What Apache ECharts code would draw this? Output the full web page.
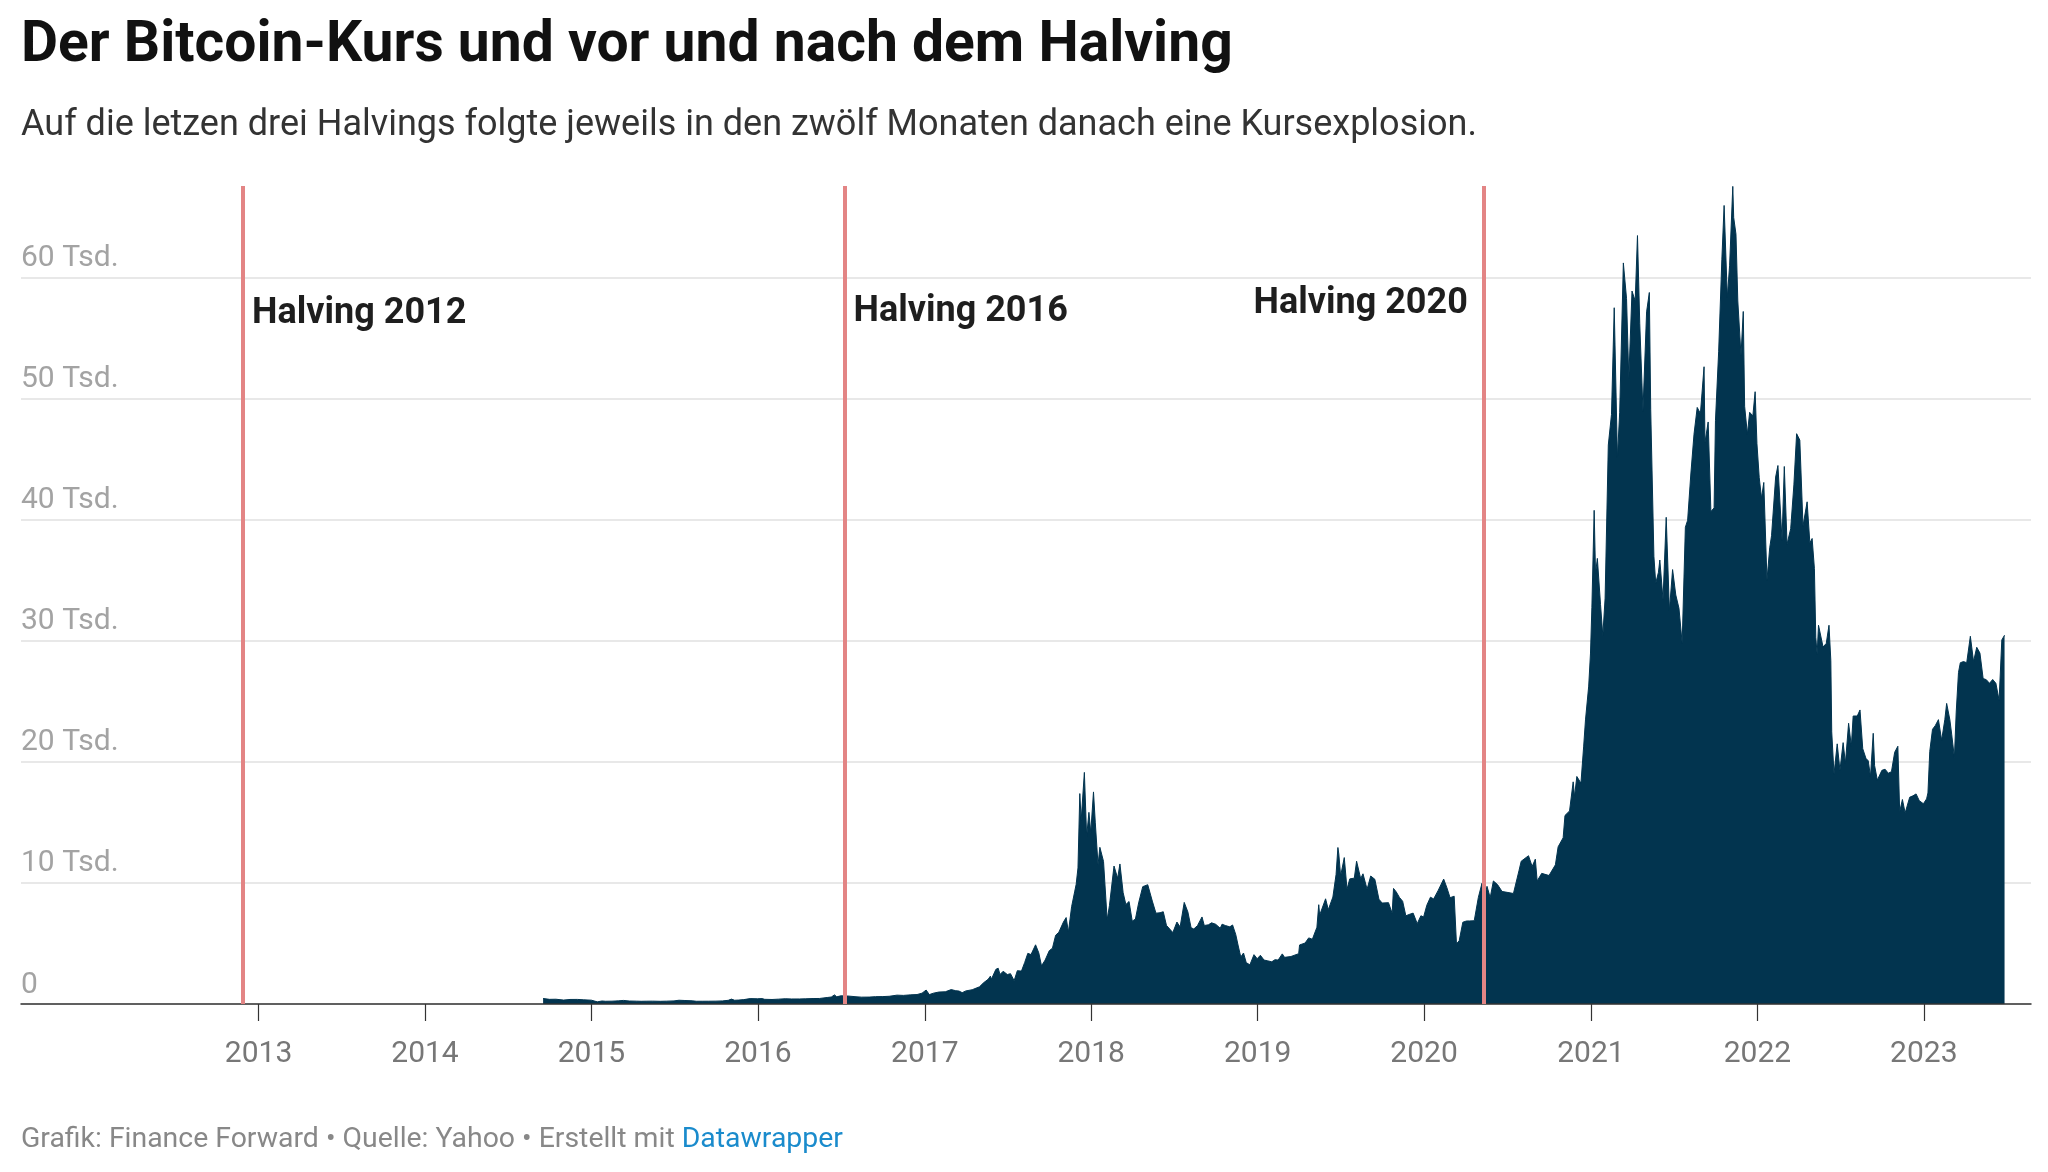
<!DOCTYPE html>
<html><head><meta charset="utf-8">
<script src="https://cdn.jsdelivr.net/npm/echarts@6/dist/echarts.min.js"></script>
<style>html,body{margin:0;padding:0;background:#fff}#c{width:2048px;height:1172px}</style>
</head><body><div id="c"></div>
<script>
// Bitcoin closing price (USD)
const btc2014 = [['2014-09-17',457],['2014-10-01',384],['2014-10-15',394],['2014-11-01',325],['2014-11-15',375],['2014-12-01',379],['2014-12-15',347]];
const btc2015 = [['2015-01-01',314],['2015-01-14',178],['2015-01-24',248],['2015-02-01',226],['2015-02-15',234],['2015-03-01',260],['2015-03-12',296],['2015-03-25',247],['2015-04-10',236],['2015-04-20',224],['2015-05-01',232],['2015-05-15',237],['2015-06-01',223],['2015-06-15',236],['2015-07-01',258],['2015-07-12',311],['2015-07-25',289],['2015-08-10',264],['2015-08-19',226],['2015-09-01',228],['2015-09-15',230],['2015-10-01',237],['2015-10-15',255],['2015-10-28',304],['2015-11-04',403],['2015-11-11',311],['2015-11-20',326],['2015-12-01',362],['2015-12-15',445],['2015-12-31',430]];
const btc2016 = [['2016-01-10',448],['2016-01-16',387],['2016-02-01',373],['2016-02-15',400],['2016-03-01',435],['2016-03-15',415],['2016-04-01',417],['2016-04-15',430],['2016-05-01',451],['2016-05-15',457],['2016-06-01',536],['2016-06-10',577],['2016-06-17',753],['2016-06-22',593],['2016-07-01',676],['2016-07-15',665],['2016-08-01',606],['2016-08-15',567],['2016-09-01',572],['2016-09-15',607],['2016-10-01',613],['2016-10-15',639],['2016-11-01',731],['2016-11-15',711],['2016-12-01',756],['2016-12-15',780],['2016-12-26',896]];
const btc2017 = [['2017-01-04',1154],['2017-01-11',777],['2017-01-20',895],['2017-02-01',989],['2017-02-15',1010],['2017-02-28',1190],['2017-03-10',1098],['2017-03-17',1071],['2017-03-24',937],['2017-04-01',1080],['2017-04-15',1180],['2017-05-01',1421],['2017-05-10',1756],['2017-05-20',2041],['2017-05-25',2304],['2017-05-27',2040],['2017-06-06',2864],['2017-06-11',2958],['2017-06-15',2442],['2017-06-22',2707],['2017-07-01',2434],['2017-07-08',2507],['2017-07-16',1929],['2017-07-23',2754],['2017-08-01',2718],['2017-08-08',3419],['2017-08-15',4185],['2017-08-22',4086],['2017-09-01',4892],['2017-09-08',4226],['2017-09-14',3154],['2017-09-22',3630],['2017-10-01',4403],['2017-10-08',4610],['2017-10-15',5680],['2017-10-22',5930],['2017-11-01',6767],['2017-11-07',7144],['2017-11-12',5950],['2017-11-19',8040],['2017-11-26',9330],['2017-11-29',9888],['2017-12-03',11246],['2017-12-07',17390],['2017-12-10',15170],['2017-12-17',19140],['2017-12-22',13831],['2017-12-27',15838],['2017-12-31',14156]];
const btc2018 = [['2018-01-06',17527],['2018-01-10',14973],['2018-01-16',11490],['2018-01-20',12950],['2018-01-28',11786],['2018-02-05',6955],['2018-02-10',8130],['2018-02-20',11403],['2018-02-28',10397],['2018-03-05',11573],['2018-03-12',9205],['2018-03-18',8223],['2018-03-25',8470],['2018-04-01',6844],['2018-04-08',7023],['2018-04-15',8355],['2018-04-24',9697],['2018-05-05',9858],['2018-05-15',8504],['2018-05-23',7505],['2018-06-01',7541],['2018-06-08',7624],['2018-06-15',6499],['2018-06-29',5903],['2018-07-08',6773],['2018-07-15',6357],['2018-07-24',8397],['2018-08-01',7605],['2018-08-08',6306],['2018-08-14',6200],['2018-08-22',6475],['2018-09-01',7193],['2018-09-06',6489],['2018-09-15',6543],['2018-09-22',6710],['2018-10-01',6589],['2018-10-11',6260],['2018-10-15',6596],['2018-10-22',6486],['2018-11-01',6377],['2018-11-07',6531],['2018-11-14',5738],['2018-11-19',4871],['2018-11-25',3880],['2018-12-01',4214],['2018-12-07',3419],['2018-12-15',3236],['2018-12-24',4079],['2018-12-31',3742]];
const btc2019 = [['2019-01-07',4025],['2019-01-15',3630],['2019-01-22',3576],['2019-02-01',3487],['2019-02-08',3661],['2019-02-15',3630],['2019-02-24',4142],['2019-03-01',3855],['2019-03-15',3924],['2019-04-01',4158],['2019-04-03',4880],['2019-04-15',5036],['2019-04-23',5464],['2019-05-01',5350],['2019-05-11',6340],['2019-05-15',8205],['2019-05-17',7344],['2019-05-30',8693],['2019-06-05',7795],['2019-06-15',8838],['2019-06-22',10701],['2019-06-26',12932],['2019-06-28',12400],['2019-07-02',10583],['2019-07-10',12100],['2019-07-16',9478],['2019-07-22',10340],['2019-08-01',10400],['2019-08-06',11800],['2019-08-15',10360],['2019-08-20',10760],['2019-08-29',9487],['2019-09-06',10577],['2019-09-15',10305],['2019-09-24',8660],['2019-10-01',8343],['2019-10-15',8374],['2019-10-23',7490],['2019-10-26',9551],['2019-11-01',9261],['2019-11-08',8809],['2019-11-15',8491],['2019-11-22',7290],['2019-12-01',7424],['2019-12-08',7511],['2019-12-17',6640],['2019-12-25',7290],['2019-12-31',7193]];
const btc2020 = [['2020-01-07',8163],['2020-01-15',8826],['2020-01-22',8680],['2020-02-01',9390],['2020-02-13',10326],['2020-02-20',9610],['2020-02-27',8785],['2020-03-07',8909],['2020-03-12',4970],['2020-03-18',5225],['2020-03-26',6760],['2020-04-03',6860],['2020-04-10',6865],['2020-04-20',6880],['2020-04-29',8800],['2020-05-07',9980],['2020-05-11',8600],['2020-05-18',9725],['2020-05-25',8790],['2020-06-01',10167],['2020-06-10',9870],['2020-06-20',9300],['2020-07-01',9228],['2020-07-15',9132],['2020-07-27',11000],['2020-08-01',11800],['2020-08-17',12254],['2020-08-25',11366],['2020-09-01',11970],['2020-09-05',10170],['2020-09-15',10795],['2020-10-01',10620],['2020-10-15',11500],['2020-10-21',12990],['2020-11-01',13737],['2020-11-05',15580],['2020-11-15',15956],['2020-11-23',18360],['2020-11-26',17150],['2020-12-01',18803],['2020-12-10',18250],['2020-12-16',21310],['2020-12-20',23480],['2020-12-27',26270],['2020-12-31',29001]];
const btc2021 = [['2021-01-03',32782],['2021-01-08',40797],['2021-01-11',35567],['2021-01-15',36825],['2021-01-22',33000],['2021-01-27',30432],['2021-02-01',33537],['2021-02-08',46196],['2021-02-15',48717],['2021-02-21',57539],['2021-02-28',45137],['2021-03-05',48900],['2021-03-13',61243],['2021-03-20',58300],['2021-03-25',51700],['2021-04-01',58918],['2021-04-08',58100],['2021-04-13',63503],['2021-04-18',56216],['2021-04-25',49004],['2021-05-03',57200],['2021-05-09',58800],['2021-05-12',49150],['2021-05-19',37002],['2021-05-23',34770],['2021-05-29',35680],['2021-06-01',36690],['2021-06-08',33400],['2021-06-15',40219],['2021-06-22',32505],['2021-06-29',35900],['2021-07-06',33800],['2021-07-13',32700],['2021-07-20',29807],['2021-07-27',39400],['2021-08-01',39975],['2021-08-08',43800],['2021-08-15',47096],['2021-08-22',49300],['2021-08-29',48800],['2021-09-06',52663],['2021-09-08',46400],['2021-09-15',48100],['2021-09-21',40693],['2021-09-28',41000],['2021-10-01',48199],['2021-10-08',53900],['2021-10-15',61500],['2021-10-20',65992],['2021-10-27',58400],['2021-11-01',61004],['2021-11-08',67567],['2021-11-10',64995],['2021-11-15',63612],['2021-11-19',58100],['2021-11-26',53600],['2021-12-01',57229],['2021-12-04',49396],['2021-12-10',47100],['2021-12-15',48896],['2021-12-22',48600],['2021-12-27',50600],['2021-12-31',46306]];
const btc2022 = [['2022-01-05',43500],['2022-01-10',41800],['2022-01-15',43100],['2022-01-22',35030],['2022-01-28',37700],['2022-02-01',38700],['2022-02-10',43550],['2022-02-15',44500],['2022-02-24',38330],['2022-03-01',44420],['2022-03-07',38000],['2022-03-15',39280],['2022-03-22',42900],['2022-03-28',47130],['2022-04-04',46600],['2022-04-11',39500],['2022-04-20',41500],['2022-04-26',38100],['2022-05-01',38470],['2022-05-06',36000],['2022-05-09',30300],['2022-05-12',28900],['2022-05-15',31300],['2022-05-25',29500],['2022-06-01',29800],['2022-06-07',31300],['2022-06-11',28400],['2022-06-13',22490],['2022-06-18',19000],['2022-06-25',21500],['2022-07-01',19300],['2022-07-08',21600],['2022-07-13',19900],['2022-07-20',23200],['2022-07-26',21300],['2022-07-30',23800],['2022-08-08',23800],['2022-08-14',24300],['2022-08-20',21100],['2022-08-27',20300],['2022-09-01',20100],['2022-09-06',18800],['2022-09-12',22370],['2022-09-15',19700],['2022-09-21',18500],['2022-10-01',19310],['2022-10-08',19400],['2022-10-15',19070],['2022-10-22',19200],['2022-10-29',20800],['2022-11-05',21300],['2022-11-09',15880],['2022-11-15',16900],['2022-11-21',15790],['2022-12-01',17090],['2022-12-08',17200],['2022-12-15',17360],['2022-12-22',16800],['2022-12-31',16550]];
const btc2023 = [['2023-01-07',16950],['2023-01-10',17440],['2023-01-14',20880],['2023-01-20',22700],['2023-01-26',23000],['2023-02-02',23500],['2023-02-09',21800],['2023-02-16',23500],['2023-02-20',24840],['2023-02-27',23500],['2023-03-03',22300],['2023-03-09',20360],['2023-03-13',24120],['2023-03-18',27400],['2023-03-22',28200],['2023-03-29',28300],['2023-04-05',28200],['2023-04-13',30390],['2023-04-20',28300],['2023-04-27',29480],['2023-05-04',29000],['2023-05-11',26900],['2023-05-18',26800],['2023-05-25',26500],['2023-06-01',26820],['2023-06-08',26500],['2023-06-15',25100],['2023-06-21',30090],['2023-06-27',30480]];

const halvingDates = ['2012-11-28', '2016-07-09', '2020-05-11'];
const halvingLabels = ['Halving 2012', 'Halving 2016', 'Halving 2020'];
const tickYears = [2013, 2014, 2015, 2016, 2017, 2018, 2019, 2020, 2021, 2022, 2023];
const xRange = ['2011-07-30', '2023-08-24'];
const yMax = 67600, yStep = 10000;

function ts(s) { const p = s.split('-').map(Number); return new Date(p[0], p[1] - 1, p[2]).getTime(); }
const priceData = [].concat(btc2014, btc2015, btc2016, btc2017, btc2018, btc2019, btc2020, btc2021, btc2022, btc2023)
  .map(function (r) { return [ts(r[0]), r[1]]; });
const tickVals = tickYears.map(function (y) { return new Date(y, 0, 1).getTime(); });

const F = 'Roboto, "Noto Sans", sans-serif';
const labelAnchorY = [57050, 57200, 57850];
const chart = echarts.init(document.getElementById('c'), null, { renderer: 'canvas' });
chart.setOption({
  animation: false,
  backgroundColor: '#ffffff',
  title: [
    { text: 'Der Bitcoin-Kurs und vor und nach dem Halving', left: 21, top: 14, padding: 0,
      textStyle: { fontFamily: F, fontWeight: 'bold', fontSize: 57, lineHeight: 66, color: '#111111' } },
    { text: 'Auf die letzen drei Halvings folgte jeweils in den zwölf Monaten danach eine Kursexplosion.', left: 21, top: 106, padding: 0,
      textStyle: { fontFamily: F, fontWeight: 'normal', fontSize: 36, lineHeight: 40, color: '#333333' } },
    { text: 'Grafik: Finance Forward • Quelle: Yahoo • Erstellt mit {l|Datawrapper}', left: 21, top: 1123, padding: 0,
      textStyle: { fontFamily: F, fontWeight: 'normal', fontSize: 28.4, lineHeight: 33, color: '#888888',
        rich: { l: { fontFamily: F, fontSize: 28.4, lineHeight: 33, color: '#1a8bcc' } } } }
  ],
  grid: { left: 21, right: 17, top: 186, bottom: 168, containLabel: false },
  xAxis: {
    type: 'value', min: ts(xRange[0]), max: ts(xRange[1]), z: 3,
    axisLine: { show: true, lineStyle: { color: '#333333', width: 1.5 } },
    axisTick: { show: true, length: 17, customValues: tickVals, lineStyle: { color: '#333333', width: 1.2 } },
    axisLabel: { customValues: tickVals, margin: 35, fontFamily: F, fontSize: 30, color: '#777777',
      formatter: function (v) { return String(new Date(v).getFullYear()); } },
    splitLine: { show: false }
  },
  yAxis: {
    type: 'value', min: 0, max: yMax, interval: yStep, z: 1,
    axisLine: { show: false }, axisTick: { show: false },
    axisLabel: { inside: true, margin: 0, align: 'left', verticalAlign: 'bottom', padding: [0, 0, 4, 0],
      showMaxLabel: false, fontFamily: F, fontSize: 30, lineHeight: 30, color: '#a3a3a3',
      formatter: function (v) { if (v % yStep !== 0) return ''; return v === 0 ? '0' : (v / 1000) + ' Tsd.'; } },
    splitLine: { show: true, showMaxLine: false, lineStyle: { color: '#e8e8e8', width: 2 } }
  },
  series: [
    { type: 'line', name: 'halving', z: 0, silent: true, data: [],
      markLine: { silent: true, animation: false, symbol: ['none', 'none'], label: { show: false },
        lineStyle: { color: '#e38585', width: 4, type: 'solid' },
        data: halvingDates.map(function (d) { return { xAxis: ts(d) }; }) } },
    { type: 'line', name: 'Bitcoin', z: 2, silent: true, data: priceData, showSymbol: false, symbol: 'none',
      lineStyle: { width: 1, color: '#02344f' }, areaStyle: { color: '#02344f', opacity: 1 } },
    { type: 'scatter', name: 'labels', z: 4, silent: true, symbolSize: 0, itemStyle: { opacity: 1 },
      data: halvingDates.map(function (d, i) {
        return { name: halvingLabels[i], value: [ts(d), labelAnchorY[i]],
          label: { position: i === 2 ? 'left' : 'right', distance: i === 2 ? 16 : 9 } };
      }),
      label: { show: true, formatter: function (p) { return p.name; }, fontFamily: F, fontWeight: 'bold', fontSize: 36, color: '#1e1e1e', textBorderWidth: 0 } }
  ]
});
</script></body></html>
